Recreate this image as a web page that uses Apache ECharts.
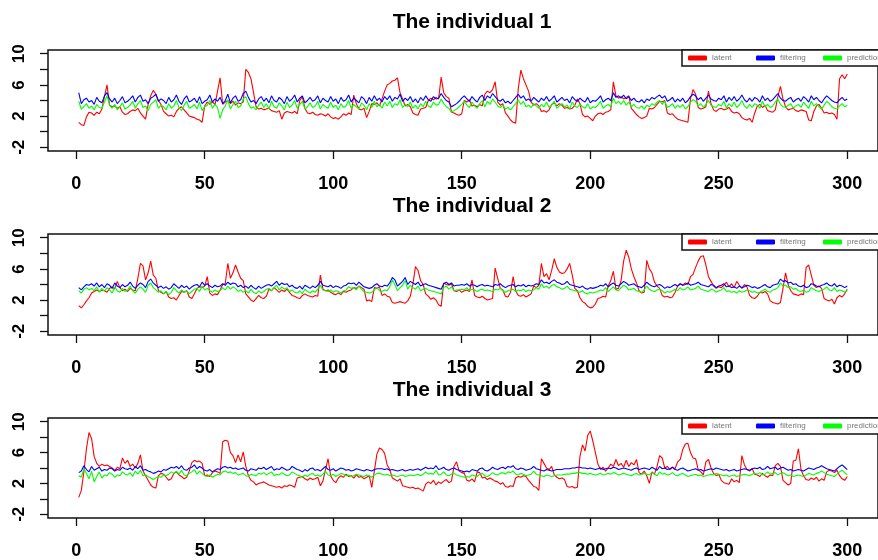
<!DOCTYPE html>
<html>
<head>
<meta charset="utf-8">
<script src="https://cdn.jsdelivr.net/npm/echarts@6.0.0/dist/echarts.min.js"></script>
<style>
html,body{margin:0;padding:0;background:#fff;}
#chart{width:878px;height:560px;}
</style>
</head>
<body>
<div id="chart"></div>
<script>
const titles = ['The individual 1', 'The individual 2', 'The individual 3'];
const seriesNames = ['latent', 'filtering', 'prediction'];
const xTicks = [0, 50, 100, 150, 200, 250, 300];
const yTicks = [-2, 0, 2, 4, 6, 8, 10];
const yTickLabels = [-2, 2, 6, 10];

const latent1 = [
1.2,0.9,0.8,1.9,2.5,2.4,2.1,2.5,2.3,2.9,
4.5,6.0,3.4,3.2,3.3,3.0,3.2,2.5,2.2,2.3,
2.6,2.8,2.7,3.0,2.4,2.0,1.6,3.5,4.6,5.3,
4.8,4.0,3.5,2.6,2.3,2.0,2.1,1.9,2.6,3.0,
3.2,2.8,2.4,2.0,1.9,1.8,1.6,1.5,1.2,3.3,
3.8,3.5,3.9,3.4,5.2,6.9,3.5,3.8,4.0,3.6,
3.9,3.4,3.7,3.6,3.8,8.0,7.6,6.8,5.0,3.2,
2.9,3.0,2.8,2.9,3.0,2.7,2.6,2.5,2.7,1.6,
2.4,2.6,2.5,2.4,2.6,2.3,4.0,4.5,3.0,2.4,
2.3,2.5,2.2,2.1,2.3,2.2,2.0,2.3,1.9,1.7,
1.8,1.6,1.9,2.3,2.1,2.4,2.2,4.7,3.6,2.9,
2.8,3.0,1.8,2.6,3.6,3.5,3.7,3.3,4.2,5.2,
6.0,6.2,6.5,6.6,6.9,5.0,4.2,3.3,3.5,3.2,
2.4,2.2,2.1,2.9,3.0,3.1,4.0,4.3,4.1,4.4,
4.2,7.0,5.0,4.5,4.3,2.5,2.4,2.2,2.1,2.3,
4.0,3.8,4.1,3.3,3.4,3.2,3.5,3.3,4.8,5.2,
5.0,5.4,6.4,3.8,3.4,3.6,2.4,2.0,1.5,1.2,
1.1,5.5,7.9,6.8,6.0,5.2,3.8,3.4,3.6,3.3,
2.6,2.7,2.5,2.8,3.5,3.7,3.3,3.6,3.4,3.0,
3.1,2.9,3.0,3.4,4.2,3.6,2.2,1.9,2.0,1.7,
1.4,2.0,2.3,2.4,2.2,2.5,2.6,2.8,6.4,4.6,
4.3,4.5,4.2,4.4,4.6,3.0,2.6,2.2,1.9,1.7,
1.8,2.0,3.0,2.9,3.1,3.5,3.9,3.8,4.0,2.4,
2.2,2.3,1.9,1.6,1.5,1.4,1.3,1.2,4.2,5.4,
4.8,3.1,2.9,3.0,3.2,5.2,3.6,2.8,2.6,2.9,
3.0,2.8,2.9,3.1,2.6,2.4,2.5,2.3,1.8,1.6,
1.5,1.7,1.2,2.4,3.3,3.5,3.1,3.4,2.7,2.6,
2.5,2.8,4.5,5.8,4.2,3.2,2.8,2.9,3.0,2.7,
2.6,2.8,2.7,2.6,1.5,1.4,2.6,3.3,3.5,3.0,
2.4,2.5,2.3,2.4,2.2,1.6,6.8,7.3,6.8,7.4
];
const filtering1 = [
5.0,3.6,4.1,4.3,3.8,4.0,3.5,4.4,3.9,3.7,
4.6,5.0,4.2,3.8,4.3,3.6,4.0,4.5,3.7,3.9,
4.2,4.6,3.8,4.4,4.7,3.9,4.1,3.6,4.3,4.5,
4.8,3.9,4.2,4.0,3.6,4.4,3.8,4.1,4.7,3.9,
3.5,4.2,4.6,3.8,4.0,4.3,3.7,4.5,3.6,3.9,
4.1,4.7,3.8,4.2,3.9,4.4,3.6,4.0,4.8,3.7,
4.3,4.6,3.9,4.1,4.9,5.2,4.4,3.8,4.0,3.6,
4.2,4.5,3.9,4.3,3.7,4.6,4.0,3.8,4.4,4.1,
3.6,4.5,3.9,4.2,4.7,3.8,4.3,4.6,3.7,4.0,
4.4,3.9,4.1,4.6,3.7,4.3,4.0,3.8,4.5,3.9,
4.2,3.6,4.4,3.9,4.1,4.7,3.8,4.3,4.0,3.7,
4.5,4.2,3.6,4.4,3.9,4.6,4.0,4.3,3.8,4.5,
4.1,4.6,3.9,4.4,4.2,4.8,3.9,4.3,4.0,4.5,
3.8,4.2,3.7,4.4,4.0,4.6,4.1,3.9,4.5,4.2,
4.3,4.9,4.4,4.0,3.8,3.2,3.4,3.6,3.9,4.3,
4.6,4.2,3.9,4.5,4.1,3.8,4.4,4.7,4.0,4.6,
4.3,4.9,4.5,4.1,3.9,4.2,3.7,3.9,3.6,4.0,
4.4,4.8,4.3,4.6,4.0,4.2,3.9,4.4,4.1,3.8,
4.3,4.0,4.5,3.9,4.2,4.6,3.8,4.1,4.4,4.0,
4.2,3.7,4.5,4.1,3.9,4.3,4.0,3.8,4.4,3.7,
4.0,3.9,4.2,4.6,3.8,4.1,4.3,4.0,5.0,4.4,
4.6,4.3,4.7,4.2,4.5,4.0,4.3,3.9,3.8,4.1,
3.7,4.2,4.0,4.4,4.2,4.5,4.7,4.3,4.6,3.9,
4.1,4.4,3.8,4.2,3.9,4.3,3.7,4.0,4.5,4.8,
4.6,4.1,4.4,3.9,4.3,4.7,4.2,4.0,3.9,4.3,
4.1,4.6,3.8,4.4,4.0,4.5,3.9,4.2,4.7,4.1,
3.8,4.3,3.9,4.4,4.2,3.8,4.6,4.0,4.3,3.9,
4.1,4.5,4.9,4.3,4.0,3.9,4.2,4.4,3.8,4.1,
4.3,3.9,4.5,4.2,3.8,4.6,4.1,4.4,4.0,3.7,
4.2,4.6,4.3,4.0,3.8,3.7,4.1,4.4,4.0,4.2
];
const prediction1 = [
3.9,2.9,3.2,3.6,3.0,3.3,2.8,3.5,3.1,3.0,
3.8,4.6,3.4,3.0,3.5,2.8,3.2,3.7,2.9,3.1,
3.4,3.9,3.0,3.6,4.0,3.1,3.3,2.7,3.5,3.8,
4.1,3.0,3.4,3.2,2.8,3.6,3.0,3.3,4.0,3.1,
2.7,3.4,3.9,3.0,3.2,3.5,2.9,3.8,2.7,3.2,
3.4,4.0,3.0,3.5,3.1,1.7,2.8,3.3,4.1,2.9,
3.5,3.9,3.1,3.3,4.2,4.5,3.6,3.0,3.2,2.8,
3.4,3.8,3.1,3.6,2.9,3.9,3.2,3.0,3.7,3.3,
2.8,3.8,3.1,3.4,4.0,3.0,3.5,3.9,2.9,3.2,
3.7,3.1,3.3,3.9,2.9,3.5,3.2,3.0,3.8,3.1,
3.4,2.8,3.6,3.1,3.3,4.0,3.0,3.5,3.2,2.9,
3.7,3.4,2.8,3.6,3.1,3.9,3.2,3.5,3.0,3.8,
3.3,3.9,3.1,3.6,3.4,4.1,3.1,3.5,3.2,3.8,
3.0,3.4,2.9,3.6,3.2,3.9,3.3,3.1,3.8,3.4,
3.5,4.2,3.6,3.2,3.0,2.5,2.7,2.9,3.2,3.5,
3.9,3.4,3.1,3.8,3.3,3.0,3.6,4.0,3.2,3.9,
3.5,4.2,3.8,3.3,3.1,3.4,2.9,3.1,2.8,3.2,
3.6,4.1,3.5,3.9,3.2,3.4,3.1,3.6,3.3,3.0,
3.5,3.2,3.8,3.1,3.4,3.9,3.0,3.3,3.6,3.2,
3.4,2.9,3.8,3.3,3.1,3.5,3.2,3.0,3.6,2.9,
3.2,3.1,3.4,3.9,3.0,3.3,3.5,3.2,4.3,3.6,
3.9,3.5,4.0,3.4,3.8,3.2,3.5,3.1,3.0,3.3,
2.9,3.4,3.2,3.6,3.4,3.8,4.0,3.5,3.9,3.1,
3.3,3.6,3.0,3.4,3.1,3.5,2.9,3.2,3.8,4.1,
3.9,3.3,3.6,3.1,3.5,4.0,3.4,3.2,3.1,3.5,
3.3,3.9,3.0,3.6,3.2,3.8,3.1,3.4,4.0,3.3,
3.0,3.5,3.1,3.6,3.4,3.0,3.9,3.2,3.5,3.1,
3.3,3.8,4.2,3.5,3.2,3.1,3.4,3.6,3.0,3.3,
3.5,3.1,3.8,3.4,3.0,3.9,3.3,3.6,3.2,2.9,
3.4,3.9,3.6,3.2,3.0,2.9,3.3,3.6,3.2,3.4
];

const latent2 = [
1.3,1.0,1.4,1.9,2.3,2.9,3.1,3.3,3.1,3.3,
3.2,3.0,3.5,3.7,3.4,4.4,3.6,3.2,3.4,3.1,
3.5,3.3,3.2,4.8,6.7,6.4,4.6,5.5,7.0,5.2,
4.8,3.2,3.0,2.8,3.1,2.4,2.2,2.3,2.0,2.6,
3.1,3.0,3.2,2.4,2.2,2.8,3.5,3.7,3.6,3.8,
5.0,2.9,2.6,2.8,2.7,3.3,4.0,4.1,6.7,4.8,
5.5,6.5,5.6,4.8,4.5,2.8,2.4,2.0,1.8,2.2,
2.6,2.3,2.2,2.5,3.4,3.2,3.6,3.3,3.0,3.3,
3.1,3.4,3.0,2.6,2.5,2.3,2.2,2.6,2.8,2.6,
2.5,2.4,2.6,2.5,5.2,3.4,3.2,3.3,3.0,2.8,
2.7,2.9,2.7,3.1,3.0,3.2,3.3,3.6,3.5,3.8,
3.6,3.4,1.9,2.0,1.8,3.6,3.5,3.7,2.6,2.8,
2.5,2.4,1.7,1.6,1.7,1.8,1.7,1.6,1.9,2.5,
4.0,6.3,5.8,4.5,4.0,2.8,2.5,2.1,2.3,2.0,
1.4,1.2,4.2,4.0,3.9,4.1,3.2,3.1,3.3,3.0,
3.2,3.3,3.1,4.6,2.6,2.4,2.3,2.5,2.2,2.0,
2.1,2.2,6.1,4.8,3.5,3.3,2.5,2.4,3.0,5.0,
3.2,2.6,2.5,2.7,2.4,2.6,2.8,3.8,3.6,3.9,
6.7,5.0,5.4,4.6,5.8,7.3,6.2,5.6,5.4,5.5,
6.0,6.7,5.2,3.5,3.2,2.3,1.8,1.6,1.2,1.0,
1.1,1.5,2.2,2.3,2.5,2.4,3.8,4.5,5.7,3.4,
3.5,4.5,7.0,8.4,7.5,6.0,5.0,4.2,3.2,2.9,
3.0,7.1,6.0,5.5,4.3,3.8,3.5,2.6,2.4,2.5,
2.3,2.4,3.0,3.8,4.1,3.9,4.2,4.0,5.0,5.3,
6.2,7.0,7.6,7.7,6.5,5.0,4.4,3.8,3.5,3.7,
3.6,3.9,4.3,3.7,4.1,3.6,4.4,3.9,3.5,4.0,
3.7,2.6,2.3,2.2,2.5,3.0,2.9,3.1,2.8,1.9,
1.7,1.6,1.5,1.7,3.5,5.5,4.0,3.2,2.8,2.7,
2.6,2.8,2.7,6.2,6.5,5.2,3.9,3.6,3.8,3.5,
2.2,2.0,1.9,2.1,1.5,2.3,2.6,2.4,2.8,3.4
];
const filtering2 = [
3.6,3.3,3.7,4.0,3.9,4.1,3.8,4.2,3.7,4.0,
3.6,4.1,3.9,3.5,4.2,3.8,3.6,4.0,3.7,3.9,
4.3,3.8,3.5,3.9,4.2,4.0,3.6,4.4,4.7,4.2,
3.9,3.6,3.8,3.5,3.7,3.4,3.6,4.1,3.8,3.5,
3.9,3.6,3.8,3.4,3.7,3.9,4.0,3.7,4.3,3.9,
4.1,3.8,3.6,3.9,3.7,3.8,4.1,3.9,4.3,4.0,
4.2,4.1,3.7,3.9,3.6,3.8,3.5,3.9,3.6,3.4,
3.8,3.5,3.7,3.9,4.0,3.8,4.1,4.4,3.9,4.2,
4.0,4.1,3.7,3.9,3.6,3.5,3.8,3.4,3.9,3.7,
3.5,3.8,3.6,3.9,4.4,3.9,3.8,3.7,3.9,3.6,
3.8,3.7,3.5,3.8,3.9,4.2,4.1,4.2,3.9,4.3,
4.0,3.7,3.6,3.5,3.6,3.9,4.1,3.8,3.7,3.9,
3.8,4.2,4.9,4.6,3.8,4.1,4.4,4.9,4.0,4.4,
4.2,4.0,4.3,3.8,4.0,4.1,3.9,3.8,3.7,3.6,
3.5,3.4,4.1,4.3,4.0,4.2,3.8,3.9,3.9,4.0,
3.9,4.1,3.8,4.0,3.9,3.7,3.9,4.0,3.8,3.9,
3.8,3.7,4.0,3.9,4.1,3.8,3.6,3.8,3.9,4.0,
3.7,3.9,3.8,4.0,3.7,3.9,3.8,3.9,4.1,4.0,
4.6,4.2,4.3,4.1,4.4,4.6,4.3,4.2,4.0,4.1,
4.4,4.0,3.9,3.8,3.7,3.6,3.8,3.5,3.4,3.6,
3.5,3.6,3.7,3.9,3.8,4.1,3.7,4.0,4.2,3.9,
3.8,4.1,4.4,4.2,3.9,4.0,4.1,3.8,3.7,3.6,
3.9,4.3,4.0,3.8,3.7,3.9,4.0,3.8,3.5,3.7,
3.6,3.8,4.0,3.8,4.1,3.9,4.0,4.2,3.9,4.0,
4.1,4.3,4.0,3.9,3.8,3.7,4.0,3.9,3.6,3.8,
3.9,4.1,3.7,3.8,3.6,3.7,3.5,3.8,3.6,3.7,
3.9,3.8,3.6,3.7,3.5,3.6,3.8,4.0,3.7,3.6,
3.9,4.0,4.1,4.7,4.4,4.5,4.2,4.3,4.0,4.1,
3.8,3.7,3.9,3.6,3.7,4.1,4.0,3.8,3.7,3.9,
4.0,4.2,3.9,3.8,4.1,3.7,3.9,3.8,3.6,3.8
];
const prediction2 = [
3.2,2.9,3.4,3.6,3.3,3.5,3.2,3.7,3.0,3.5,
3.1,3.6,3.3,2.9,3.7,3.2,3.0,3.5,3.1,3.3,
3.8,3.2,2.9,3.4,3.7,3.4,3.0,3.9,4.2,3.6,
3.3,3.0,3.2,2.8,3.1,2.7,3.0,3.6,3.2,2.9,
3.3,3.0,3.2,2.8,3.1,3.4,3.5,3.1,3.8,3.3,
3.5,3.2,3.0,3.3,3.1,3.2,3.6,3.3,3.8,3.4,
3.7,3.5,3.1,3.3,3.0,3.2,2.9,3.4,3.0,2.8,
3.2,2.9,3.1,3.4,3.5,3.2,3.6,3.9,3.3,3.7,
3.4,3.6,3.1,3.3,3.0,2.9,3.2,2.8,3.4,3.1,
2.9,3.2,3.0,3.4,3.9,3.3,3.2,3.1,3.3,3.0,
3.2,3.1,2.9,3.2,3.3,3.7,3.5,3.6,3.3,3.8,
3.4,3.1,3.0,2.9,3.0,3.3,3.6,3.2,3.1,3.3,
3.2,3.7,4.6,4.0,3.2,3.6,3.9,4.5,3.4,3.9,
3.6,3.4,3.8,3.2,3.4,3.5,3.3,3.2,3.1,3.0,
2.9,2.8,3.6,3.8,3.4,3.7,3.2,3.3,3.3,3.4,
3.3,3.6,3.2,3.4,3.3,3.1,3.3,3.4,3.2,3.3,
3.2,3.1,3.4,3.3,3.5,3.2,3.0,3.2,3.3,3.4,
3.1,3.3,3.2,3.4,3.1,3.3,3.2,3.3,3.6,3.4,
4.1,3.6,3.8,3.5,3.9,4.0,3.7,3.6,3.4,3.5,
3.8,3.4,3.3,3.2,3.1,3.0,3.2,2.9,2.8,3.0,
2.9,3.0,3.1,3.3,3.2,3.6,3.1,3.4,3.7,3.3,
3.2,3.6,3.9,3.7,3.3,3.4,3.5,3.2,3.1,3.0,
3.3,3.8,3.4,3.2,3.1,3.3,3.4,3.2,2.9,3.1,
3.0,3.2,3.4,3.2,3.6,3.3,3.4,3.7,3.3,3.4,
3.5,3.8,3.4,3.3,3.2,3.1,3.4,3.3,3.0,3.2,
3.3,3.6,3.1,3.2,3.0,3.1,2.9,3.2,3.0,3.1,
3.3,3.2,3.0,3.1,2.9,3.0,3.2,3.4,3.1,3.0,
3.3,3.4,3.6,4.2,3.8,3.9,3.6,3.7,3.4,3.5,
3.2,3.1,3.3,3.0,3.1,3.6,3.4,3.2,3.1,3.3,
3.4,3.7,3.3,3.2,3.6,3.1,3.3,3.2,3.0,3.2
];

const latent3 = [
0.2,1.1,3.5,6.5,8.6,7.8,5.5,4.6,4.2,4.5,
4.3,4.4,4.2,4.0,3.7,4.1,3.9,5.3,4.6,5.0,
4.2,4.5,4.0,4.6,5.7,3.6,3.0,2.4,1.8,1.5,
1.4,3.0,3.3,3.2,2.8,2.4,2.6,3.3,3.5,3.1,
2.9,2.6,2.8,3.6,4.7,5.0,4.8,4.9,4.6,3.0,
3.1,2.9,3.4,3.6,3.5,3.3,7.4,7.6,7.5,6.0,
5.6,4.7,5.7,4.8,6.1,4.2,3.0,2.4,2.2,1.8,
2.0,2.1,2.2,2.0,1.8,1.7,1.6,1.5,1.6,1.4,
1.7,1.6,1.8,1.7,1.5,2.7,2.8,2.9,2.6,2.4,
2.7,2.5,2.6,2.8,1.7,2.3,3.8,5.2,3.0,2.4,
2.1,2.7,3.0,2.8,3.2,2.9,3.0,2.7,3.1,2.8,
2.9,2.6,2.8,3.0,1.5,3.6,5.8,6.6,6.4,5.9,
4.4,3.8,2.7,2.5,2.3,2.6,1.7,1.6,1.5,1.4,
1.5,1.3,1.4,1.2,1.0,1.9,2.2,2.0,2.4,1.8,
2.2,2.0,2.3,2.5,2.1,2.3,4.2,4.8,3.6,3.4,
3.3,2.4,2.3,2.6,2.2,3.5,3.4,2.7,2.8,2.5,
2.7,2.5,2.3,2.2,1.9,2.1,1.6,1.5,1.7,1.6,
2.7,2.9,2.8,3.0,2.9,2.4,2.0,1.6,1.5,1.1,
5.2,4.6,4.0,3.8,4.2,3.1,2.8,2.6,2.7,2.5,
1.6,1.5,1.6,1.4,1.5,5.5,7.0,6.2,8.2,8.8,
7.5,6.0,4.5,3.8,4.1,3.6,4.0,4.5,4.2,5.1,
4.3,4.6,4.1,5.0,4.2,4.7,4.4,5.1,3.4,3.2,
3.6,3.0,2.0,3.5,3.2,4.2,5.6,5.3,4.0,4.2,
3.8,4.1,3.9,4.8,5.1,6.4,7.1,7.2,6.0,5.3,
5.2,3.8,3.5,3.1,4.8,5.1,4.0,3.3,3.0,3.2,
2.4,2.1,2.0,1.9,2.6,2.2,2.4,2.1,5.6,4.4,
3.8,3.6,3.9,3.2,3.1,2.9,3.3,3.0,2.8,3.1,
3.0,4.3,4.6,4.2,2.4,2.1,1.8,2.0,4.9,5.0,
6.5,3.8,3.0,2.5,2.4,2.7,2.5,2.8,2.3,2.6,
2.4,3.5,3.7,3.6,3.4,3.7,3.0,2.6,2.4,2.9
];
const filtering3 = [
3.4,3.6,4.3,3.8,3.5,4.2,3.7,3.9,4.1,3.6,
3.8,3.7,4.0,3.9,3.6,3.8,3.7,4.1,3.9,3.8,
4.0,3.7,4.2,3.9,4.3,3.7,3.8,3.6,3.5,3.3,
3.4,3.6,3.5,3.8,3.7,3.9,4.1,4.0,4.2,3.9,
4.3,3.8,3.7,4.0,4.1,4.4,3.9,4.2,4.0,3.7,
3.6,3.8,3.5,3.7,3.9,3.8,4.1,4.2,4.0,4.1,
3.9,4.0,3.8,3.9,4.0,3.7,3.6,3.9,3.8,3.7,
4.0,3.9,4.1,3.8,4.0,4.2,3.7,3.9,3.8,4.1,
3.9,3.7,3.8,4.2,4.0,3.8,3.7,3.5,3.8,3.6,
3.9,4.0,3.7,3.8,3.6,3.9,4.2,3.8,3.7,3.9,
3.6,3.8,4.0,3.9,3.7,3.8,3.6,3.7,3.9,3.8,
3.7,3.6,3.8,3.7,3.6,3.8,3.9,3.9,3.9,3.8,
3.9,3.7,3.8,3.7,3.6,3.7,3.8,3.6,3.7,3.8,
3.7,3.8,3.9,3.7,3.9,4.1,3.9,4.0,3.9,4.3,
3.8,3.9,4.1,3.8,3.7,3.9,4.0,3.8,3.7,3.6,
3.5,3.6,3.5,3.8,3.7,3.6,3.9,4.0,3.7,3.6,
3.8,4.1,3.9,3.8,4.0,4.1,3.9,4.2,4.1,4.3,
3.9,3.8,4.0,3.9,3.7,3.8,3.9,4.2,3.9,3.8,
3.7,3.6,3.8,3.7,3.6,3.7,3.8,3.8,3.8,3.9,
3.9,3.9,4.0,4.0,4.1,4.1,4.0,4.0,3.9,4.0,
3.9,3.8,3.9,4.0,3.8,3.9,4.0,3.9,4.1,4.0,
3.8,3.9,4.0,3.9,3.8,3.7,3.9,4.0,3.8,3.9,
4.0,3.9,3.8,4.1,3.9,3.7,4.2,3.9,4.0,3.8,
3.9,4.1,3.8,3.7,3.9,4.0,3.8,3.6,3.7,3.8,
3.9,3.7,3.8,3.6,3.7,3.8,3.9,3.8,4.0,3.9,
3.8,3.7,3.8,3.6,3.7,3.8,3.6,3.7,3.8,3.9,
3.8,3.7,3.9,4.0,3.9,4.1,3.8,3.9,4.2,3.9,
4.0,4.1,3.8,4.0,4.1,3.9,3.7,3.8,3.6,3.7,
3.8,3.7,3.6,3.8,4.0,3.9,3.8,4.0,4.1,4.3,
4.1,3.9,3.8,3.7,3.6,3.9,4.2,4.4,4.1,3.8
];
const prediction3 = [
3.0,2.8,3.9,3.3,2.6,3.6,2.2,2.9,3.5,2.7,
3.1,3.0,3.4,3.2,2.8,3.1,3.0,3.5,3.2,3.1,
3.4,2.9,3.6,3.2,3.7,3.0,3.1,2.9,2.7,2.5,
2.7,2.9,2.8,3.1,3.0,3.2,3.5,3.3,3.6,3.2,
3.7,3.1,3.0,3.3,3.5,3.8,3.2,3.6,3.3,3.0,
2.9,3.1,2.8,3.0,3.2,3.1,3.5,3.6,3.4,3.5,
3.3,3.4,3.1,3.2,3.3,3.0,2.9,3.2,3.1,3.0,
3.3,3.2,3.4,3.1,3.3,3.5,3.0,3.2,3.1,3.4,
3.2,3.0,3.1,3.5,3.3,3.1,3.0,2.8,3.1,2.9,
3.2,3.3,3.0,3.1,2.9,3.2,3.6,3.1,3.0,3.2,
2.9,3.1,3.3,3.2,3.0,3.1,2.9,3.0,3.2,3.1,
3.0,2.9,3.1,3.0,2.8,3.1,3.3,3.3,3.2,3.1,
3.2,3.0,3.1,3.0,2.9,3.0,3.1,2.9,3.0,3.1,
3.0,3.1,3.2,3.0,3.2,3.5,3.2,3.3,3.2,3.7,
3.1,3.2,3.5,3.1,3.0,3.2,3.3,3.1,3.0,2.9,
2.8,2.9,2.8,3.1,3.0,2.9,3.2,3.3,3.0,2.9,
3.1,3.4,3.2,3.1,3.3,3.4,3.2,3.5,3.4,3.6,
3.2,3.1,3.3,3.2,3.0,3.1,3.2,3.6,3.2,3.1,
3.0,2.9,3.1,3.0,2.9,3.0,3.1,3.1,3.1,3.2,
3.2,3.2,3.3,3.3,3.4,3.4,3.3,3.3,3.2,3.3,
3.2,3.1,3.2,3.3,3.1,3.2,3.3,3.2,3.4,3.3,
3.1,3.2,3.3,3.2,3.1,3.0,3.2,3.3,3.1,3.2,
3.3,3.2,3.1,3.4,3.2,3.0,3.5,3.2,3.3,3.1,
3.2,3.4,3.1,3.0,3.2,3.3,3.1,2.9,3.0,3.1,
3.2,3.0,3.1,2.9,3.0,3.1,3.2,3.1,3.3,3.2,
3.1,3.0,3.1,2.9,3.0,3.1,2.9,3.0,3.1,3.2,
3.1,3.0,3.2,3.3,3.2,3.4,3.1,3.2,3.5,3.2,
3.3,3.4,3.1,3.3,3.4,3.2,3.0,3.1,2.9,3.0,
3.1,3.0,2.9,3.1,3.3,3.2,3.1,3.3,3.4,3.6,
3.4,3.2,3.1,3.0,2.9,3.2,3.5,3.7,3.4,3.1
];

const panels = [
  [latent1, filtering1, prediction1],
  [latent2, filtering2, prediction2],
  [latent3, filtering3, prediction3]
];
const colors = ['#ff0000', '#0000ff', '#00ff00'];

// layout
const gridTops = [50, 234, 418];
const gridLeft = 48, gridWidth = 838, gridHeight = 101;
const legendItemLefts = [682, 750, 817];
const fontFam = '"Liberation Sans", Arial, sans-serif';

const grids = [], xAxes = [], yAxes = [], series = [], legends = [], titleArr = [];
gridTops.forEach((top, p) => {
  grids.push({ left: gridLeft, top: top, width: gridWidth, height: gridHeight, show: true,
    borderColor: '#111', borderWidth: 1.5, backgroundColor: 'transparent' });
  xAxes.push({ type: 'value', gridIndex: p, min: -10.96, max: 311.96, position: 'bottom',
    axisLine: { show: false, onZero: false }, splitLine: { show: false },
    axisTick: { show: true, length: 8, inside: false, customValues: xTicks, lineStyle: { color: '#111', width: 1.3 } },
    axisLabel: { show: true, customValues: xTicks, margin: 24, fontSize: 18, fontWeight: 'bold', color: '#000', fontFamily: fontFam } });
  yAxes.push({ type: 'value', gridIndex: p, min: -2.48, max: 10.48, position: 'left',
    axisLine: { show: false, onZero: false }, splitLine: { show: false },
    axisTick: { show: true, length: 8, inside: false, customValues: yTicks, lineStyle: { color: '#111', width: 1.3 } },
    axisLabel: { show: true, customValues: yTickLabels, rotate: 90, margin: 20, fontSize: 17, fontWeight: 'bold', color: '#000', fontFamily: fontFam } });
  titleArr.push({ text: titles[p], left: 467, top: top - 43, textAlign: 'center',
    textStyle: { fontSize: 21, fontWeight: 'bold', color: '#000', fontFamily: fontFam } });
  seriesNames.forEach((nm, s) => {
    const boxed = s === 0;
    legends.push({ left: legendItemLefts[s], top: top, orient: 'horizontal', data: [nm],
      padding: boxed ? [4, 190, 4, 6] : [4, 0, 4, 6], itemGap: 0, itemWidth: 19, itemHeight: 5, icon: 'roundRect',
      borderColor: '#111', borderWidth: boxed ? 1.5 : 0,
      backgroundColor: boxed ? '#fff' : 'transparent', borderRadius: 0,
      selectedMode: false, z: boxed ? 10 : 11,
      textStyle: { fontSize: 8, color: '#777', fontFamily: fontFam } });
  });
  panels[p].forEach((vals, s) => {
    series.push({ name: seriesNames[s], type: 'line', xAxisIndex: p, yAxisIndex: p,
      data: vals.map((v, i) => [i + 1, v]), showSymbol: false, symbol: 'none',
      lineStyle: { color: colors[s], width: 1.1 }, itemStyle: { color: colors[s] },
      animation: false, silent: true });
  });
});

const chart = echarts.init(document.getElementById('chart'), null, { renderer: 'canvas' });
chart.setOption({
  backgroundColor: '#fff',
  animation: false,
  title: titleArr,
  legend: legends,
  grid: grids,
  xAxis: xAxes,
  yAxis: yAxes,
  series: series
});
</script>
</body>
</html>
